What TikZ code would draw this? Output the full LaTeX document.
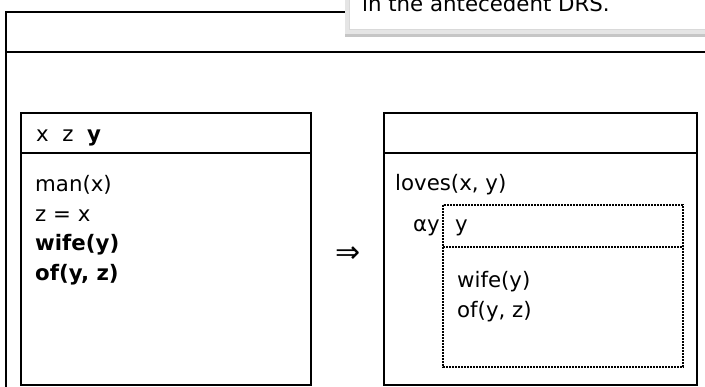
\documentclass[tikz,border=0pt]{standalone}
\usepackage{fontspec}
\setmainfont{DejaVu Sans}
\begin{document}
\begin{tikzpicture}[x=1pt,y=-1pt,
  boxline/.style={draw=black,line width=2.3pt},
  dotline/.style={draw=black,line width=1.8pt,dash pattern=on 1.6pt off 1.4pt},
  txt/.style={anchor=base west,inner sep=0pt,font=\fontsize{21.3}{24}\selectfont}]
\useasboundingbox (0,0) rectangle (705,387);
\clip (0,0) rectangle (705,387);
% outer DRS
\draw[boxline] (6,12) rectangle (720,400);
\draw[boxline] (6,52) -- (720,52);
% note (callout) with shadow
\fill[gray!45] (345,-10) rectangle (720,37);
\fill[gray!20] (345,-10) rectangle (720,34);
\filldraw[fill=white,draw=gray!30,line width=0.8pt] (349,-10) rectangle (720,29);
\node[txt] (note) at (362,12) {in the antecedent DRS.};
% left inner DRS
\draw[boxline] (21,113) rectangle (311,385);
\draw[boxline] (21,153) -- (311,153);
\node[txt] (lhead) at (36,142) {x\ \ z\ \ \textbf{y}};
\node[txt] (l1) at (35,192) {man(x)};
\node[txt] (l2) at (35,221.5) {z = x};
\node[txt] (l3) at (35,251) {\textbf{wife(y)}};
\node[txt] (l4) at (35,280.5) {\textbf{of(y, z)}};
% arrow
\node[inner sep=0pt,font=\fontsize{30}{30}\selectfont] (arr) at (348,255) {⇒};
% right inner DRS
\draw[boxline] (384,113) rectangle (697,385);
\draw[boxline] (384,153) -- (697,153);
\node[txt] (r1) at (395,191) {loves(x, y)};
% dotted presupposition DRS
\draw[dotline] (443,205) rectangle (683,367);
\draw[dotline] (443,247) -- (683,247);
\node[anchor=base east,inner sep=0pt,font=\fontsize{21.3}{24}\selectfont] (alpha) at (440,232) {αy};
\node[txt] (dhead) at (455,232) {y};
\node[txt] (d1) at (457,288) {wife(y)};
\node[txt] (d2) at (457,318) {of(y, z)};
\end{tikzpicture}
\end{document}
